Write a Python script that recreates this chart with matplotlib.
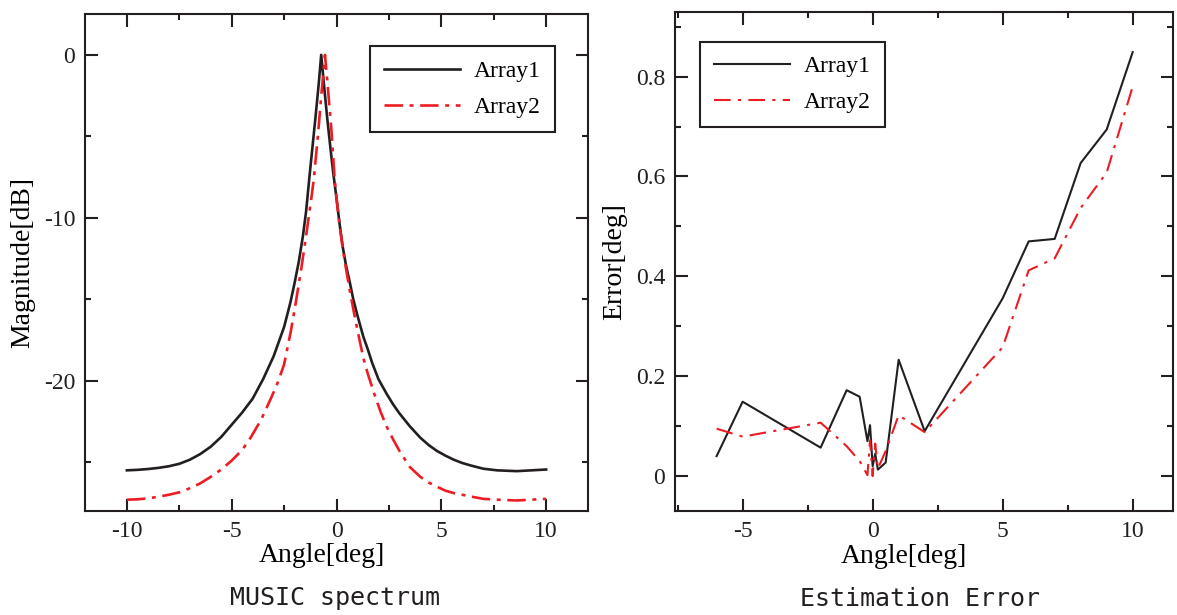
import matplotlib
matplotlib.use("Agg")
import matplotlib.pyplot as plt
from matplotlib.ticker import MultipleLocator

# MUSIC spectrum
spec_angle1 = [-10, -9.5, -9, -8.5, -8, -7.5, -7, -6.5, -6, -5.5, -5, -4.5, -4, -3.5,
               -3, -2.5, -2.2, -2, -1.8, -1.6, -1.45, -1.3, -1.0, -0.85, -0.73, -0.6,
               -0.45, -0.3, -0.16, 0, 0.15, 0.3, 0.45, 0.64, 0.8, 1.0, 1.28, 1.5, 1.7,
               2.0, 2.39, 2.7, 3.0, 3.5, 4.0, 4.4, 4.78, 5.2, 5.6, 6.0, 6.4, 7.0, 7.66,
               8.6, 9.3, 10]
spec_db1 = [-25.5, -25.47, -25.42, -25.35, -25.25, -25.1, -24.85, -24.5, -24.05, -23.45,
            -22.7, -21.95, -21.1, -19.9, -18.5, -16.7, -15.2, -14.0, -12.7, -11.1, -9.6,
            -7.6, -3.8, -1.8, 0, -1.8, -3.8, -5.6, -7.2, -8.8, -10.4, -11.8, -12.9,
            -14.0, -15.0, -16.0, -17.3, -18.1, -18.9, -19.9, -20.8, -21.45, -22.0,
            -22.8, -23.5, -23.95, -24.3, -24.6, -24.85, -25.05, -25.2, -25.4, -25.5,
            -25.55, -25.5, -25.45]

spec_angle2 = [-10, -9.5, -9, -8.5, -8, -7.5, -7, -6.5, -6, -5.5, -5, -4.5, -4.1, -3.6,
               -3.1, -2.8, -2.5, -2.17, -1.93, -1.69, -1.45, -1.21, -1.09, -0.89, -0.72,
               -0.55, -0.4, -0.25, -0.1, 0, 0.15, 0.3, 0.45, 0.64, 0.8, 1.0, 1.28, 1.5,
               1.8, 2.1, 2.39, 2.7, 3.0, 3.5, 4.0, 4.4, 4.78, 5.2, 5.6, 6.0, 6.38, 7.0,
               7.66, 8.6, 9.3, 10]
spec_db2 = [-27.3, -27.28, -27.22, -27.12, -27.0, -26.85, -26.6, -26.3, -25.9, -25.45,
            -24.9, -24.25, -23.5, -22.4, -21.0, -20.1, -19.0, -16.9, -15.1, -13.2, -11.1,
            -8.9, -7.7, -5.0, -2.4, 0, -2.2, -4.5, -7.4, -8.8, -10.5, -11.9, -13.1,
            -14.5, -15.6, -16.9, -18.6, -19.6, -20.8, -21.9, -22.8, -23.6, -24.3,
            -25.3, -25.9, -26.25, -26.5, -26.75, -26.9, -27.0, -27.1, -27.25, -27.3,
            -27.35, -27.3, -27.25]

# estimation error
err_angle = [-6, -5, -2, -1, -0.5, -0.2, -0.1, 0, 0.1, 0.2, 0.5, 1, 2, 5, 6, 7, 8, 9, 10]
err1 = [0.040, 0.149, 0.057, 0.172, 0.159, 0.070, 0.102, 0.020, 0.045, 0.013, 0.027,
        0.233, 0.090, 0.356, 0.470, 0.475, 0.627, 0.694, 0.849]
err2 = [0.095, 0.079, 0.107, 0.060, 0.030, 0.002, 0.072, 0.000, 0.065, 0.015, 0.050,
        0.122, 0.088, 0.258, 0.412, 0.436, 0.537, 0.608, 0.780]

labels = ["Array1", "Array2"]

plt.rcParams["font.family"] = ["Liberation Serif", "DejaVu Serif"]
plt.rcParams["axes.unicode_minus"] = False
plt.rcParams["axes.linewidth"] = 1.5

BLACK = "#231f20"
RED = "#ed1c24"


def style_axes(ax):
    ax.tick_params(which="both", direction="in", top=True, right=True,
                   width=1.5, labelsize=17, colors=BLACK, pad=7)
    ax.tick_params(which="major", length=9)
    ax.tick_params(which="minor", length=4.5)
    for s in ax.spines.values():
        s.set_color(BLACK)


def add_legend(ax, **kw):
    leg = ax.legend(fontsize=17, frameon=True, fancybox=False, handlelength=3.2,
                    borderpad=0.6, labelspacing=0.6, handletextpad=0.6,
                    borderaxespad=0, **kw)
    leg.get_frame().set_edgecolor(BLACK)
    leg.get_frame().set_linewidth(1.5)
    leg.get_frame().set_alpha(1)
    return leg


fig = plt.figure(figsize=(11.77, 6.15), dpi=100)
ax1 = fig.add_axes([0.0722, 0.169, 0.4274, 0.808])
ax2 = fig.add_axes([0.5735, 0.169, 0.4231, 0.812])

ax1.plot(spec_angle1, spec_db1, color=BLACK, lw=1.9, label=labels[0])
ax1.plot(spec_angle2, spec_db2, color=RED, lw=1.9, dashes=(7, 2.5, 1.5, 2.5),
         label=labels[1])
ax1.set_xlim(-12, 12)
ax1.set_ylim(-28, 2.5)
ax1.xaxis.set_major_locator(MultipleLocator(5))
ax1.xaxis.set_minor_locator(MultipleLocator(2.5))
ax1.yaxis.set_major_locator(MultipleLocator(10))
ax1.yaxis.set_minor_locator(MultipleLocator(5))
style_axes(ax1)
ax1.set_xlabel("Angle[deg]", fontsize=20)
ax1.xaxis.set_label_coords(0.47, -0.065)
ax1.set_ylabel("Magnitude[dB]", fontsize=20, labelpad=6)
add_legend(ax1, loc="upper right", bbox_to_anchor=(0.935, 0.935))

ax2.plot(err_angle, err1, color=BLACK, lw=1.5, label=labels[0])
ax2.plot(err_angle, err2, color=RED, lw=1.5, dashes=(8, 3.5, 1.5, 3.5),
         label=labels[1])
ax2.set_xlim(-7.6, 11.55)
ax2.set_ylim(-0.07, 0.93)
ax2.xaxis.set_major_locator(MultipleLocator(5))
ax2.xaxis.set_minor_locator(MultipleLocator(2.5))
ax2.yaxis.set_major_locator(MultipleLocator(0.2))
ax2.yaxis.set_minor_locator(MultipleLocator(0.1))
ax2.yaxis.set_major_formatter(plt.FuncFormatter(lambda v, p: "0" if abs(v) < 1e-9 else f"{v:.1f}"))
style_axes(ax2)
ax2.set_xlabel("Angle[deg]", fontsize=20)
ax2.xaxis.set_label_coords(0.46, -0.065)
ax2.set_ylabel("Error[deg]", fontsize=20, labelpad=6)
add_legend(ax2, loc="upper left", bbox_to_anchor=(0.05, 0.94))

mono = ["DejaVu Sans Mono", "Liberation Mono"]
fig.text(0.285, 0.028, "MUSIC spectrum", ha="center", va="center", fontsize=18,
         family=mono, color=BLACK)
fig.text(0.782, 0.026, "Estimation Error", ha="center", va="center", fontsize=18,
         family=mono, color=BLACK)

fig.savefig("out.png", dpi=100)
